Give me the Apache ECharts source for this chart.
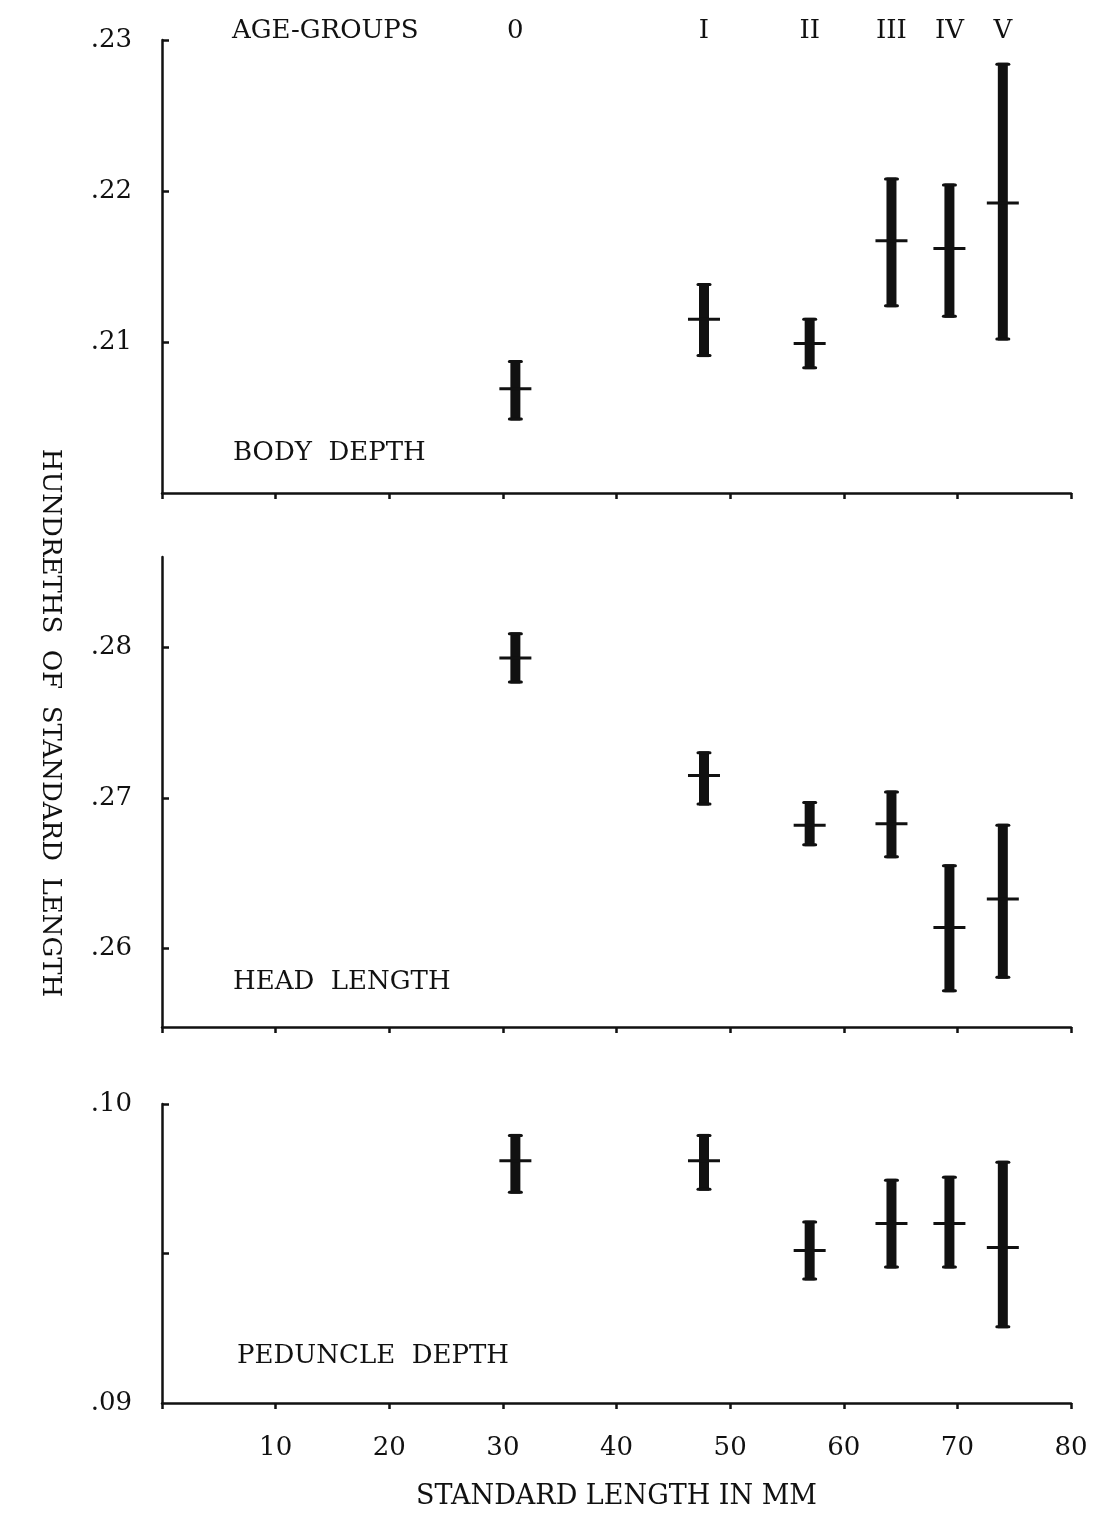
<!DOCTYPE html>
<html>
<head>
<meta charset="utf-8">
<script src="https://cdn.jsdelivr.net/npm/echarts@6/dist/echarts.min.js"></script>
<style>
  html, body { margin: 0; padding: 0; background: #fff; }
  #chart { width: 1093px; height: 1515px; }
</style>
</head>
<body>
<div id="chart"></div>
<script>
// age groups and their mean standard length (mm)
const ageGroups = ['0', 'I', 'II', 'III', 'IV', 'V']
const lengthMM = [31.1, 47.7, 57.0, 64.2, 69.3, 74.0]
const xTicks = [10, 20, 30, 40, 50, 60, 70, 80]

// body depth
const bodyMean = [0.2069, 0.2115, 0.2099, 0.2167, 0.2162, 0.2192]
const bodyHigh = [0.2088, 0.2139, 0.2116, 0.2209, 0.2205, 0.2285]
const bodyLow = [0.2048, 0.2090, 0.2082, 0.2123, 0.2116, 0.2101]

// head length
const headMean = [0.2793, 0.2715, 0.2682, 0.2683, 0.2614, 0.2633]
const headHigh = [0.2810, 0.2731, 0.2698, 0.2705, 0.2656, 0.2683]
const headLow = [0.2776, 0.2695, 0.2668, 0.2660, 0.2571, 0.2580]

// peduncle depth
const pedMean = [0.0981, 0.0981, 0.0951, 0.0960, 0.0960, 0.0952]
const pedHigh = [0.0990, 0.0990, 0.0961, 0.0975, 0.0976, 0.0981]
const pedLow = [0.0970, 0.0971, 0.0941, 0.0945, 0.0945, 0.0925]

const bodyTicks = [0.21, 0.22, 0.23]
const headTicks = [0.26, 0.27, 0.28]
const pedLabels = [0.09, 0.10]
const pedTicks = [0.095, 0.10]

const font = 'DejaVu Serif'
const ink = '#111'

function rows(mean, low, high) {
  return lengthMM.map((x, i) => [x, low[i], mean[i], high[i]])
}

function renderBar(params, api) {
  const x = api.value(0)
  const top = api.coord([x, api.value(3)])
  const bot = api.coord([x, api.value(1)])
  const mid = api.coord([x, api.value(2)])
  const bw = 10, cw = 15, mw = 32
  return {
    type: 'group',
    children: [
      { type: 'rect', shape: { x: top[0] - bw / 2, y: top[1], width: bw, height: bot[1] - top[1] }, style: { fill: ink } },
      { type: 'rect', shape: { x: top[0] - cw / 2, y: top[1], width: cw, height: 3, r: 1.5 }, style: { fill: ink } },
      { type: 'rect', shape: { x: bot[0] - cw / 2, y: bot[1] - 3, width: cw, height: 3, r: 1.5 }, style: { fill: ink } },
      { type: 'rect', shape: { x: mid[0] - mw / 2, y: mid[1] - 1.5, width: mw, height: 3 }, style: { fill: ink } }
    ]
  }
}

const fmt = v => v.toFixed(2).replace(/^0/, '')

function xAxisFor(grid, showLabels) {
  return {
    type: 'value', gridIndex: grid, min: 0, max: 80, interval: 10,
    axisLine: { lineStyle: { color: ink, width: 2.5 } },
    axisTick: { length: 6, lineStyle: { color: ink, width: 2.5 } },
    splitLine: { show: false },
    axisLabel: {
      show: showLabels, customValues: xTicks, margin: 32,
      fontFamily: font, fontSize: 26, color: ink
    },
    name: showLabels ? 'STANDARD LENGTH IN MM' : '',
    nameLocation: 'middle', nameGap: 80,
    nameTextStyle: { fontFamily: font, fontSize: 27, color: ink }
  }
}

function yAxisFor(grid, min, max, labels, ticks) {
  return {
    type: 'value', gridIndex: grid, min: min, max: max,
    axisLine: { show: true, lineStyle: { color: ink, width: 2.5 } },
    axisTick: { show: true, inside: true, length: 7, customValues: ticks, lineStyle: { color: ink, width: 2.5 } },
    splitLine: { show: false },
    axisLabel: {
      customValues: labels, formatter: fmt, margin: 30,
      fontFamily: font, fontSize: 26, color: ink
    }
  }
}

const chart = echarts.init(document.getElementById('chart'))
chart.setOption({
  backgroundColor: '#fff',
  animation: false,
  grid: [
    { left: 162, top: 40, width: 909, height: 453 },
    { left: 162, top: 557, width: 909, height: 470 },
    { left: 162, top: 1104, width: 909, height: 299 }
  ],
  xAxis: [
    xAxisFor(0, false),
    xAxisFor(1, false),
    xAxisFor(2, true),
    {
      type: 'value', gridIndex: 0, position: 'top', min: 0, max: 80,
      axisLine: { show: false }, axisTick: { show: false }, splitLine: { show: false },
      axisLabel: {
        customValues: lengthMM, margin: -4,
        formatter: v => {
          let best = 0
          lengthMM.forEach((x, i) => { if (Math.abs(x - v) < Math.abs(lengthMM[best] - v)) best = i })
          return ageGroups[best]
        },
        fontFamily: font, fontSize: 26, color: ink
      }
    }
  ],
  yAxis: [
    yAxisFor(0, 0.20, 0.23, bodyTicks, bodyTicks),
    yAxisFor(1, 0.2548, 0.286, headTicks, headTicks),
    yAxisFor(2, 0.09, 0.10, pedLabels, pedTicks)
  ],
  series: [
    { type: 'custom', name: 'BODY DEPTH', xAxisIndex: 0, yAxisIndex: 0, renderItem: renderBar, data: rows(bodyMean, bodyLow, bodyHigh), encode: { x: 0, y: [1, 2, 3] } },
    { type: 'custom', name: 'HEAD LENGTH', xAxisIndex: 1, yAxisIndex: 1, renderItem: renderBar, data: rows(headMean, headLow, headHigh), encode: { x: 0, y: [1, 2, 3] } },
    { type: 'custom', name: 'PEDUNCLE DEPTH', xAxisIndex: 2, yAxisIndex: 2, renderItem: renderBar, data: rows(pedMean, pedLow, pedHigh), encode: { x: 0, y: [1, 2, 3] } }
  ],
  graphic: [
    { type: 'text', left: 232, top: 18, style: { text: 'AGE-GROUPS', font: '26px "DejaVu Serif"', fill: ink } },
    { type: 'text', left: 233, top: 440, style: { text: 'BODY  DEPTH', font: '26px "DejaVu Serif"', fill: ink } },
    { type: 'text', left: 233, top: 969, style: { text: 'HEAD  LENGTH', font: '26px "DejaVu Serif"', fill: ink } },
    { type: 'text', left: 237, top: 1343, style: { text: 'PEDUNCLE  DEPTH', font: '26px "DejaVu Serif"', fill: ink } },
    {
      type: 'text', x: 50, y: 723, rotation: -Math.PI / 2,
      style: { text: 'HUNDRETHS  OF  STANDARD  LENGTH', font: '26px "DejaVu Serif"', fill: ink, align: 'center', verticalAlign: 'middle' }
    }
  ]
})
</script>
</body>
</html>
